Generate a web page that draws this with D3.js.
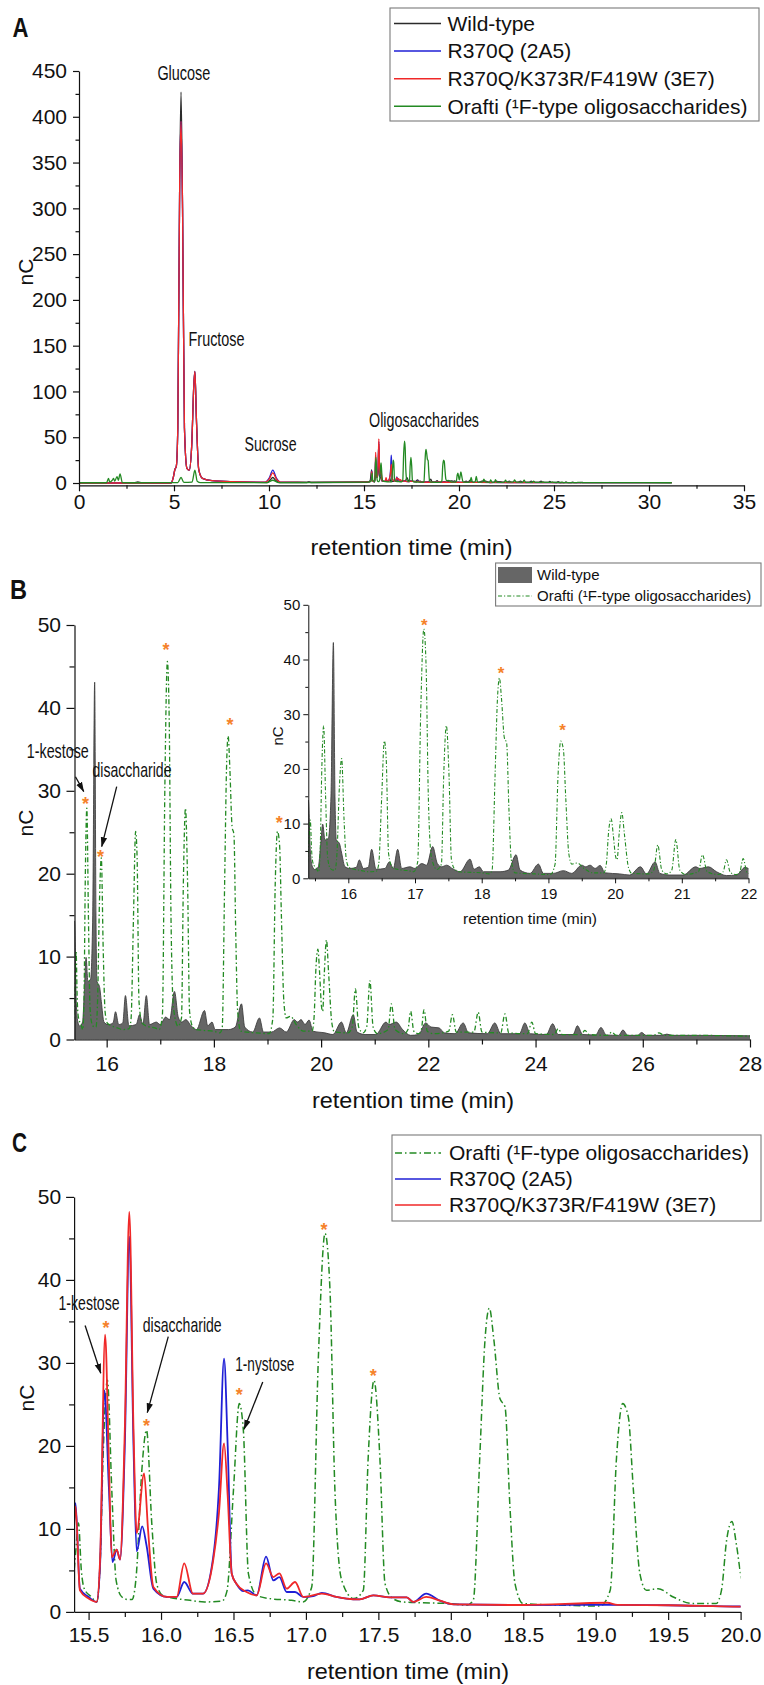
<!DOCTYPE html>
<html>
<head>
<meta charset="utf-8">
<script src="https://cdn.jsdelivr.net/npm/d3@7"></script>
<style>
  body { margin: 0; background: #fff; }
  svg { display: block; }
</style>
</head>
<body>
<script>
// ---------- Chromatogram traces: [retention time (min), signal (nC)] ----------
const wildType = [
  [0,0],[2.9,0.1],[3.1,1.2],[3.3,0.1],[4.85,0],[4.95,5],[5.05,15],[5.12,18],[5.2,60],[5.3,330],
  [5.37,427],[5.45,300],[5.55,60],[5.68,16],[5.8,14],[5.93,40],[6.05,110],[6.1,122],[6.18,70],[6.3,15],
  [6.5,5],[7,2.5],[8,1.5],[9.9,0.5],[10.05,3],
  [10.2,6],[10.35,3],[10.55,0.5],[12.0,0.5],[12.1,1.5],[12.2,0.5],[15.2,0.6],[15.33,3],[15.4,14.3],
  [15.43,5],[15.46,2.2],[15.5,1.6],[15.55,2.1],[15.585,6],[15.616,9.9],[15.65,7.0],[15.70,7.3],
  [15.74,15],[15.776,43.1],[15.80,15],[15.82,7.0],[15.866,6.4],[15.9,4.6],[15.95,2.1],[16.025,1.8],
  [16.12,2.0],[16.165,3.35],[16.225,1.8],[16.3,2.0],[16.35,5.3],[16.415,1.65],[16.55,1.8],[16.615,3.0],
  [16.675,1.8],[16.74,5.3],[16.8,1.8],[16.925,2.1],[17.0,1.8],[17.1,2.7],[17.175,2.4],[17.265,5.8],
  [17.335,2.7],[17.4,2.1],[17.475,2.4],[17.575,1.65],[17.675,1.2],[17.825,3.5],[17.885,1.65],[17.965,2.1],
  [18.025,1.2],[18.15,1.2],[18.275,1.2],[18.4,1.5],[18.515,4.3],[18.575,1.5],[18.725,0.9],[18.85,2.6],
  [18.925,0.9],[19.075,0.9],[19.225,1.4],[19.35,0.9],[19.5,2.4],[19.56,2.1],[19.625,2.4],[19.7,1.8],
  [19.775,2.35],[19.85,1.0],[20.07,0.8],[20.22,0.6],[20.38,2.1],[20.47,0.8],[20.6,3.0],[20.67,0.9],
  [20.82,0.6],[21.02,0.6],[21.21,2.1],[21.27,1.8],[21.4,2.1],[21.52,1.2],[21.67,0.5],[21.82,0.6],
  [21.95,2.0],[22.05,1.5],[22.2,1.4],[22.3,0.8],[22.5,0.7],[22.65,2.0],[22.75,0.8],[23.1,0.7],
  [23.24,2.0],[23.35,0.7],[23.7,0.7],[23.8,2.0],[23.9,0.7],[24.2,0.6],[24.32,1.9],[24.42,0.6],
  [24.7,0.6],[24.78,1.65],[24.88,0.6],[25.12,0.55],[25.22,1.45],[25.32,0.55],[25.55,0.5],[25.63,1.15],
  [25.72,0.5],[25.9,0.5],[25.98,0.85],[26.06,0.5],[26.35,0.5],[26.45,0.65],[26.55,0.5],[27.0,0.5],
  [28.0,0.45],[31.2,0.4]
];

const r370q = [
  [0,0],[4.85,0],[4.95,5],[5.05,15],[5.12,18],[5.2,60],[5.3,330],[5.37,395],[5.45,300],[5.55,60],
  [5.68,16],[5.8,14],[5.93,40],[6.05,110],[6.1,122],[6.18,70],[6.3,15],[6.5,5],[7,2.5],[8,1.5],[9.8,1],
  [10.0,5],[10.2,14],[10.4,5],[10.6,1],[12,0.8],[15.3,1.5],[15.38,4],[15.41,13.1],[15.44,2.8],[15.5,1.8],
  [15.556,1.2],[15.58,6],[15.609,26.7],[15.64,15],[15.665,6.0],[15.694,7.5],[15.717,6.3],[15.75,20],
  [15.781,45.2],[15.81,20],[15.832,7.3],[15.87,10.3],[15.9,8],[15.947,2.8],[16.04,1.8],[16.108,1.8],
  [16.16,3.6],[16.22,2.2],[16.29,2.2],[16.36,6.6],[16.40,15],[16.435,30.5],[16.46,20],[16.488,4.6],
  [16.52,3.4],[16.57,2.5],[16.6,2.6],[16.66,2.0],[16.725,6.65],[16.775,3.8],[16.817,4.2],[16.867,2.4],
  [16.925,2.4],[16.982,1.8],[17.05,1.9],[17.11,2.3],[17.21,1.8],[17.28,1.6],[17.37,1.5],[17.465,2.0],
  [17.58,1.75],[17.696,1.75],[17.74,1.2],[17.83,2.2],[17.925,1.35],[18.02,0.9],[18.5,0.83],[19.08,0.85],
  [19.5,0.8],[20,0.65],[21,0.6],[25,0.5],[31.2,0.4]
];

const r370qK373rF419w = [
  [0,0],[4.85,0],[4.95,5],[5.05,15],[5.12,18],[5.2,60],[5.3,330],[5.37,395],[5.45,300],[5.55,60],
  [5.68,16],[5.8,14],[5.93,40],[6.05,110],[6.1,122],[6.18,70],[6.3,15],[6.5,5],[7,2.5],[8,1.5],
  [9.8,1],[10.0,4],[10.2,11],[10.4,4],[10.6,1],[12,0.8],[15.3,1.3],[15.38,3],[15.41,12.7],[15.44,2.6],
  [15.5,1.6],[15.556,1.2],[15.58,6.6],[15.614,33.4],[15.64,18],[15.66,6.6],[15.694,7.5],[15.717,6.3],
  [15.75,22],[15.781,48.2],[15.81,22],[15.832,9.5],[15.883,16.7],[15.91,10],[15.947,3.0],[16.04,1.8],
  [16.108,1.8],[16.16,5.85],[16.22,2.2],[16.29,2.2],[16.36,6.2],[16.40,12],[16.435,20.3],[16.46,14],
  [16.488,4.6],[16.52,3.4],[16.59,2.4],[16.66,2.0],[16.725,5.85],[16.775,4.2],[16.817,4.65],[16.867,2.8],
  [16.925,3.6],[16.982,1.8],[17.11,2.2],[17.21,1.8],[17.28,1.6],[17.37,1.5],[17.465,2.0],[17.58,1.75],
  [17.696,1.75],[17.74,1.2],[17.83,1.8],[17.925,1.35],[18.02,0.9],[18.5,0.83],[19.08,1.1],[19.15,0.85],
  [19.5,0.8],[20,0.63],[21,0.6],[25,0.5],[31.2,0.4]
];

const orafti = [
  [0,0.3],[1.45,0.3],[1.55,5],[1.62,1],[1.75,3],[1.82,5],[1.88,2],[2.0,7],[2.07,3],[2.16,10],[2.28,0.5],
  [3,0.3],[5.2,0.4],[5.37,6],[5.52,0.6],[5.95,1],[6.1,14],[6.22,2],[6.4,0.5],[9.9,0.5],[10.2,3],
  [10.5,0.5],[15.2,1.0],[15.38,2.0],[15.41,7],[15.43,10.7],[15.45,5],[15.47,2.8],[15.52,1.8],[15.556,1.2],
  [15.58,6],[15.6,18.7],[15.63,27.9],[15.66,14.7],[15.69,3.8],[15.73,1.8],[15.77,1.5],[15.80,1.5],
  [15.83,4.6],[15.866,16.7],[15.9,21.9],[15.936,10.7],[15.97,3.4],[16.01,2.0],[16.06,1.75],[16.2,1.4],
  [16.3,1.2],[16.42,1.3],[16.455,2.5],[16.5,14.7],[16.54,25.1],[16.568,21.9],[16.603,4.6],[16.66,2.0],
  [16.75,1.6],[16.9,1.4],[16.98,1.2],[17.04,3.0],[17.086,30.7],[17.132,45.6],[17.166,38.8],[17.2,14.7],
  [17.247,3.8],[17.33,1.6],[17.396,2.6],[17.43,18.7],[17.47,27.9],[17.51,18.7],[17.546,3.4],[17.6,1.6],
  [17.67,1.2],[17.8,1.1],[18.0,1.0],[18.11,0.8],[18.155,1.4],[18.2,18.7],[18.236,32.8],[18.266,36.6],
  [18.297,32.8],[18.339,25.7],[18.374,24.7],[18.408,12.7],[18.443,3.4],[18.5,1.0],[18.8,0.8],[19.03,0.7],
  [19.1,2.6],[19.144,18.7],[19.186,25.1],[19.225,23.5],[19.26,14.7],[19.305,4.6],[19.35,2.6],[19.43,2.8],
  [19.535,1.8],[19.67,1.0],[19.83,1.0],[19.868,2.6],[19.904,8.7],[19.94,10.9],[19.973,7.9],[20.007,4.0],
  [20.03,3.4],[20.06,8],[20.1,12],[20.14,8],[20.2,2],[20.25,0.9],[20.5,0.8],[20.58,1.5],[20.64,6.1],
  [20.7,1.5],[20.78,0.8],[20.85,1.5],[20.91,7.1],[20.97,1.5],[21.05,0.7],[21.25,1.2],[21.31,4.3],
  [21.38,1.2],[21.55,0.7],[21.62,1.2],[21.67,3.4],[21.73,1.0],[21.82,0.7],[21.87,1.2],[21.92,3.6],
  [21.98,1.0],[22.1,0.7],[22.38,1.0],[22.45,3.0],[22.52,0.9],[22.85,0.9],[22.93,3.3],[23.0,0.9],
  [23.35,0.8],[23.43,3.1],[23.5,0.8],[23.85,0.7],[23.93,2.1],[24.0,0.7],[24.35,0.6],[24.42,1.3],
  [24.5,0.6],[24.85,0.6],[24.92,1.1],[25.0,0.6],[25.35,0.5],[25.42,0.9],[25.5,0.5],[26.2,0.5],
  [26.3,0.8],[26.4,0.5],[27,0.5],[28,0.4],[31.2,0.3]
];

// ---------- Series labels ----------
const legendA = ["Wild-type", "R370Q (2A5)", "R370Q/K373R/F419W (3E7)", "Orafti (\u00B9F-type oligosaccharides)"];
const legendB = ["Wild-type", "Orafti (\u00B9F-type oligosaccharides)"];
const legendC = ["Orafti (\u00B9F-type oligosaccharides)", "R370Q (2A5)", "R370Q/K373R/F419W (3E7)"];

// ---------- Tick values ----------
const ticksAx = [0, 5, 10, 15, 20, 25, 30, 35];
const minorAx = [2.5, 7.5, 12.5, 17.5, 22.5, 27.5, 32.5];
const ticksAy = [0, 50, 100, 150, 200, 250, 300, 350, 400, 450];
const minorAy = [25, 75, 125, 175, 225, 275, 325, 375, 425];
const ticksBx = [16, 18, 20, 22, 24, 26, 28];
const minorBx = [17, 19, 21, 23, 25, 27];
const ticksInsetX = [16, 17, 18, 19, 20, 21, 22];
const minorInsetX = [15.5, 16.5, 17.5, 18.5, 19.5, 20.5, 21.5];
const ticksCx = [15.5, 16.0, 16.5, 17.0, 17.5, 18.0, 18.5, 19.0, 19.5, 20.0];
const minorCx = [15.75, 16.25, 16.75, 17.25, 17.75, 18.25, 18.75, 19.25, 19.75];
const ticksNc = [0, 10, 20, 30, 40, 50];
const minorNc = [5, 15, 25, 35, 45];

// ---------- Peak markers (asterisk centres, [min, nC]) ----------
const starsB = [[15.607, 28.9], [15.887, 22.5], [17.106, 47.5], [18.30, 38.5], [19.22, 26.6]];
const starsInset = [[17.14, 47.1], [18.29, 38.3], [19.214, 27.8]];
const starsC = [[15.62, 34.8], [15.90, 22.9], [16.54, 26.7], [17.125, 46.6], [17.465, 29.0]];

// ---------- Drawing ----------
const FONT = '"Liberation Sans", Arial, Helvetica, sans-serif';
const COL = { wt: "#2b2b2b", blue: "#1f1fd6", red: "#f02828", green: "#238a23", star: "#f5822a", grey: "#666666" };

const svg = d3.select("body").append("svg")
  .attr("width", 764).attr("height", 1685)
  .attr("font-family", FONT);
const defs = svg.append("defs");

defs.append("marker").attr("id", "arrowhead")
  .attr("viewBox", "0 0 10 10").attr("refX", 9.5).attr("refY", 5)
  .attr("markerWidth", 10).attr("markerHeight", 10)
  .attr("markerUnits", "userSpaceOnUse").attr("orient", "auto")
  .append("path").attr("d", "M0,1.8 L10,5 L0,8.2 Z").attr("fill", "#111");

function addClip(id, x, y) {
  const [x0, x1] = x.range(), [y0, y1] = y.range();
  defs.append("clipPath").attr("id", id).append("rect")
    .attr("x", x0).attr("y", y1).attr("width", x1 - x0).attr("height", y0 - y1);
}

function drawAxes(g, x, y, o) {
  const base = y.range()[0], left = x.range()[0];
  g.append("g").attr("transform", `translate(0,${base})`)
    .call(d3.axisBottom(x).tickValues(o.xMajor).tickFormat(o.xFmt)
      .tickSize(o.major).tickSizeOuter(0).tickPadding(o.xPad));
  g.append("g").attr("transform", `translate(0,${base})`)
    .call(d3.axisBottom(x).tickValues(o.xMinor).tickFormat("").tickSize(o.minor).tickSizeOuter(0))
    .call(s => s.select(".domain").remove());
  g.append("g").attr("transform", `translate(${left},0)`)
    .call(d3.axisLeft(y).tickValues(o.yMajor).tickFormat(d3.format("d"))
      .tickSize(o.major).tickSizeOuter(0).tickPadding(o.yPad));
  g.append("g").attr("transform", `translate(${left},0)`)
    .call(d3.axisLeft(y).tickValues(o.yMinor).tickFormat("").tickSize(o.minor).tickSizeOuter(0))
    .call(s => s.select(".domain").remove());
  g.selectAll("g").attr("font-family", FONT);
  g.selectAll(".tick text").attr("font-size", o.font).attr("fill", "#111");
  g.selectAll(".domain, .tick line").attr("stroke", "#111").attr("stroke-width", o.lw || 1.2);
}

function lineGen(x, y) {
  return d3.line().x(d => x(d[0])).y(d => y(d[1])).curve(d3.curveMonotoneX);
}

function trace(g, x, y, data, color, width, dash) {
  g.append("path").datum(data)
    .attr("fill", "none").attr("stroke", color).attr("stroke-width", width)
    .attr("stroke-dasharray", dash || null).attr("stroke-linejoin", "round")
    .attr("d", lineGen(x, y));
}

function filledTrace(g, x, y, data) {
  g.append("path").datum(data)
    .attr("fill", COL.grey).attr("stroke", "#404040").attr("stroke-width", 0.9)
    .attr("d", d3.area().x(d => x(d[0])).y0(y(0)).y1(d => y(d[1])).curve(d3.curveMonotoneX));
}

function label(g, text, px, py, size, opts = {}) {
  const t = g.append("text").attr("x", px).attr("y", py).attr("dy", "0.35em")
    .attr("text-anchor", opts.anchor || "middle").attr("font-size", size).attr("fill", "#111")
    .attr("font-weight", opts.weight || null);
  if (opts.len) t.attr("textLength", opts.len).attr("lengthAdjust", "spacingAndGlyphs");
  if (opts.rotate) t.attr("transform", `rotate(-90,${px},${py})`);
  t.text(text);
  return t;
}

function stars(g, x, y, list, size) {
  g.selectAll(null).data(list).join("text")
    .attr("x", d => x(d[0])).attr("y", d => y(d[1])).attr("dy", "0.58em")
    .attr("text-anchor", "middle").attr("font-size", size).attr("font-weight", "bold")
    .attr("fill", COL.star).text("*");
}

function arrow(g, x, y, from, to) {
  g.append("line")
    .attr("x1", x(from[0])).attr("y1", y(from[1]))
    .attr("x2", x(to[0])).attr("y2", y(to[1]))
    .attr("stroke", "#111").attr("stroke-width", 1.3).attr("marker-end", "url(#arrowhead)");
}

function legendBox(g, bx, by, bw, bh) {
  g.append("rect").attr("x", bx).attr("y", by).attr("width", bw).attr("height", bh)
    .attr("fill", "#fff").attr("stroke", "#7a7a7a").attr("stroke-width", 1.1);
}

// ================= Panel A =================
{
  const x = d3.scaleLinear().domain([0, 35]).range([79, 744]);
  const y = d3.scaleLinear().domain([-2.5, 450]).range([485.3, 71]);
  const g = svg.append("g");
  addClip("clipA", x, y);
  const plot = g.append("g").attr("clip-path", "url(#clipA)");
  trace(plot, x, y, wildType, COL.wt, 1.3);
  trace(plot, x, y, r370q, COL.blue, 1.3);
  trace(plot, x, y, r370qK373rF419w, COL.red, 1.3);
  trace(plot, x, y, orafti, COL.green, 1.3);

  drawAxes(g, x, y, { xMajor: ticksAx, xMinor: minorAx, yMajor: ticksAy, yMinor: minorAy,
    xFmt: d3.format("d"), major: 6, minor: 3.5, xPad: 3, yPad: 6, font: 21 });

  label(g, "Glucose", x(5.52), y(448), 21, { len: 53 });
  label(g, "Fructose", x(7.24), y(158), 21, { len: 56 });
  label(g, "Sucrose", x(10.08), y(43.4), 21, { len: 52 });
  label(g, "Oligosaccharides", x(18.16), y(69.6), 21, { len: 110 });

  label(g, "retention time (min)", 411.5, 547, 22, { len: 202 });
  label(g, "nC", 25.5, 272, 21, { rotate: true });
  label(g, "A", 20.5, 28, 27, { weight: "bold", len: 16 });

  // legend
  const lg = g.append("g");
  legendBox(lg, 390, 8, 369, 113);
  const colsA = [COL.wt, COL.blue, COL.red, COL.green];
  legendA.forEach((name, i) => {
    const ry = 23.5 + i * 27.6;
    lg.append("line").attr("x1", 394).attr("x2", 441).attr("y1", ry).attr("y2", ry)
      .attr("stroke", colsA[i]).attr("stroke-width", 1.5);
    label(lg, name, 447.5, ry, 21, { anchor: "start" });
  });
}

// ================= Panel B =================
{
  const x = d3.scaleLinear().domain([15.4, 28]).range([74.5, 750]);
  const y = d3.scaleLinear().domain([0, 50]).range([1039.5, 625]);
  const g = svg.append("g");
  addClip("clipB", x, y);
  const plot = g.append("g").attr("clip-path", "url(#clipB)");
  filledTrace(plot, x, y, wildType);
  trace(plot, x, y, orafti, COL.green, 1.3, "5,2.5,1.5,2.5");

  drawAxes(g, x, y, { xMajor: ticksBx, xMinor: minorBx, yMajor: ticksNc, yMinor: minorNc,
    xFmt: d3.format("d"), major: 8, minor: 5, xPad: 8.5, yPad: 5.5, font: 21 });

  stars(g, x, y, starsB, 18);
  label(g, "1-kestose", x(15.088), y(34.9), 21, { len: 62 });
  label(g, "disaccharide", x(16.472), y(32.5), 21, { len: 79 });
  arrow(g, x, y, [15.418, 31.7], [15.573, 29.9]);
  arrow(g, x, y, [16.187, 30.5], [15.907, 23.26]);

  label(g, "retention time (min)", 413, 1100, 22, { len: 202 });
  label(g, "nC", 25.5, 823, 21, { rotate: true });
  label(g, "B", 18.5, 590, 27, { weight: "bold", len: 17 });

  // inset: same traces on an expanded window
  const xi = d3.scaleLinear().domain([15.4, 22]).range([308.3, 748.5]);
  const yi = d3.scaleLinear().domain([0, 50]).range([878.3, 604.8]);
  const gi = svg.append("g");
  addClip("clipInset", xi, yi);
  const pi = gi.append("g").attr("clip-path", "url(#clipInset)");
  filledTrace(pi, xi, yi, wildType);
  trace(pi, xi, yi, orafti, COL.green, 1.1, "4,2,1.2,2");
  drawAxes(gi, xi, yi, { xMajor: ticksInsetX, xMinor: minorInsetX, yMajor: ticksNc, yMinor: minorNc,
    xFmt: d3.format("d"), major: 5, minor: 3, xPad: 5, yPad: 3, font: 15, lw: 1 });
  stars(gi, xi, yi, starsInset, 17);
  label(gi, "retention time (min)", 530, 918.5, 15.5, { len: 134 });
  label(gi, "nC", 278, 736, 15, { rotate: true });

  // legend
  const lg = g.append("g");
  legendBox(lg, 495.6, 563, 265.4, 43);
  lg.append("rect").attr("x", 498).attr("y", 567).attr("width", 34).attr("height", 16).attr("fill", COL.grey);
  label(lg, legendB[0], 537, 575, 15, { anchor: "start" });
  lg.append("line").attr("x1", 498).attr("x2", 532).attr("y1", 596).attr("y2", 596)
    .attr("stroke", COL.green).attr("stroke-width", 1.1).attr("stroke-dasharray", "4,2,1.2,2");
  label(lg, legendB[1], 537, 596, 15, { anchor: "start" });
}

// ================= Panel C =================
{
  const x = d3.scaleLinear().domain([15.4, 20]).range([74.1, 740.6]);
  const y = d3.scaleLinear().domain([0, 50]).range([1611.9, 1196.9]);
  const g = svg.append("g");
  addClip("clipC", x, y);
  const plot = g.append("g").attr("clip-path", "url(#clipC)");
  trace(plot, x, y, orafti, COL.green, 1.5, "7,3,1.5,3");
  trace(plot, x, y, r370q, COL.blue, 1.8);
  trace(plot, x, y, r370qK373rF419w, COL.red, 1.8);

  drawAxes(g, x, y, { xMajor: ticksCx, xMinor: minorCx, yMajor: ticksNc, yMinor: minorNc,
    xFmt: d3.format(".1f"), major: 8, minor: 5, xPad: 7.5, yPad: 5, font: 21 });

  stars(g, x, y, starsC, 18);
  label(g, "1-kestose", x(15.503), y(37.2), 21, { len: 61 });
  label(g, "disaccharide", x(16.146), y(34.6), 21, { len: 79 });
  label(g, "1-nystose", x(16.716), y(29.9), 21, { len: 59 });
  arrow(g, x, y, [15.476, 34.5], [15.584, 28.75]);
  arrow(g, x, y, [16.05, 33.16], [15.905, 24.0]);
  arrow(g, x, y, [16.702, 27.7], [16.573, 22.0]);

  label(g, "retention time (min)", 408, 1671.5, 22, { len: 202 });
  label(g, "nC", 27, 1398, 21, { rotate: true });
  label(g, "C", 19.5, 1143, 27, { weight: "bold", len: 15 });

  // legend
  const lg = g.append("g");
  legendBox(lg, 392, 1135, 369, 86);
  const stylesC = [[COL.green, "7,3,1.5,3"], [COL.blue, null], [COL.red, null]];
  legendC.forEach((name, i) => {
    const ry = 1153 + i * 26;
    lg.append("line").attr("x1", 395).attr("x2", 441).attr("y1", ry).attr("y2", ry)
      .attr("stroke", stylesC[i][0]).attr("stroke-width", 1.6).attr("stroke-dasharray", stylesC[i][1]);
    label(lg, name, 449, ry, 21, { anchor: "start" });
  });
}
</script>
</body>
</html>
